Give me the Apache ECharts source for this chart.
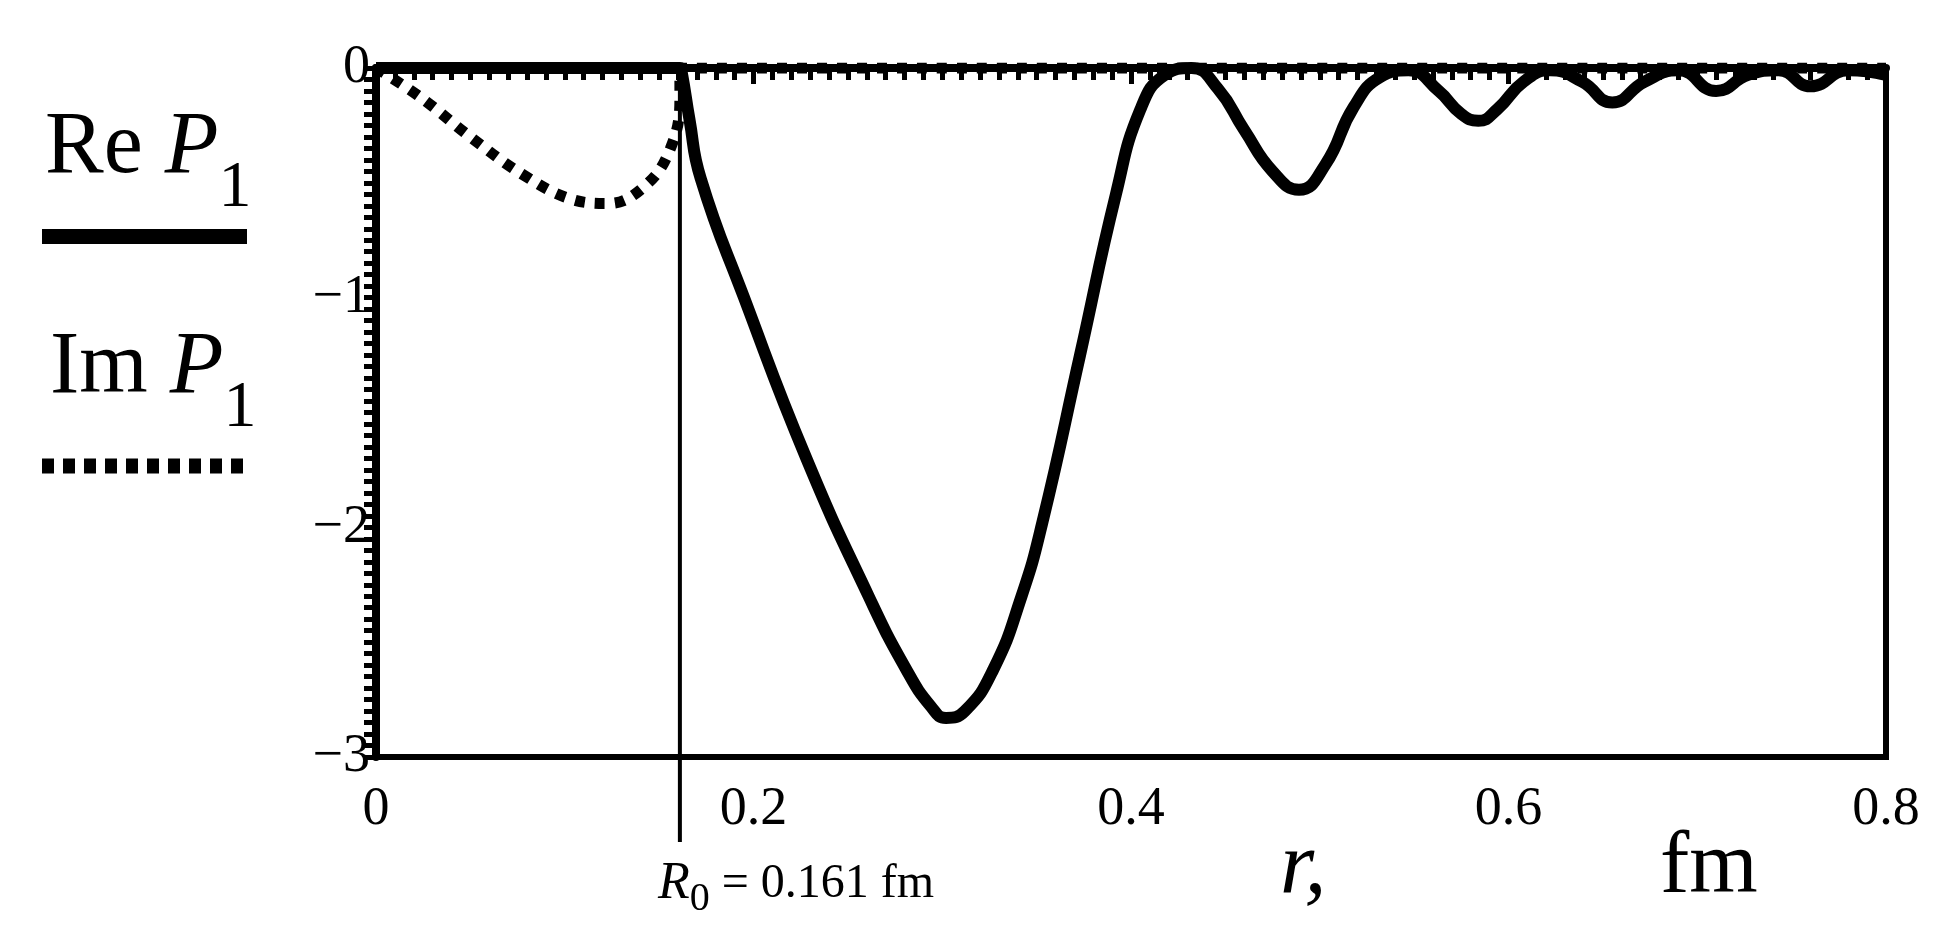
<!DOCTYPE html>
<html><head><meta charset="utf-8">
<script src="https://cdn.jsdelivr.net/npm/echarts@6/dist/echarts.min.js"></script>
<style>html,body{margin:0;padding:0;background:#fff}#c{width:1938px;height:947px}</style>
</head><body><div id="c"></div>
<script>
const reX = [0,0.161,0.162,0.166,0.172,0.195,0.228,0.261,0.281,0.294,0.302,0.312,0.327,0.342,0.353,0.373,0.392,0.405,0.418,0.432,0.446,0.46,0.475,0.489,0.503,0.518,0.532,0.547,0.563,0.575,0.584,0.594,0.608,0.622,0.639,0.655,0.672,0.69,0.71,0.727,0.743,0.76,0.78,0.8];
const reY = [0,0,-0.02,-0.22,-0.48,-1.0,-1.7,-2.3,-2.62,-2.78,-2.83,-2.8,-2.62,-2.3,-1.98,-1.25,-0.55,-0.18,-0.03,0,-0.09,-0.27,-0.45,-0.53,-0.42,-0.17,-0.04,-0.01,-0.1,-0.2,-0.23,-0.18,-0.06,-0.01,-0.06,-0.15,-0.06,-0.01,-0.1,-0.03,-0.01,-0.08,-0.01,-0.03];
const imX = [0,0.024,0.05,0.077,0.103,0.123,0.143,0.156,0.161,0.161,0.8];
const imY = [0,-0.13,-0.3,-0.46,-0.57,-0.59,-0.51,-0.35,-0.14,0,0];
const xTicks = [0,0.2,0.4,0.6,0.8];
const yTicks = [0,-1,-2,-3];
const R0 = 0.161;

const font = '"Liberation Serif", "DejaVu Serif", serif';
const chart = echarts.init(document.getElementById('c'));
chart.setOption({
  animation:false,
  grid:{left:376,right:52,top:68,bottom:190,show:true,borderColor:'#000',borderWidth:6},
  xAxis:{type:'value',min:0,max:0.8,interval:0.2,
    axisLine:{lineStyle:{color:'#000',width:8}},
    axisTick:{show:true,inside:false,length:16,lineStyle:{color:'#000',width:5}},
    minorTick:{show:true,splitNumber:20,length:12,lineStyle:{color:'#000',width:5}},
    splitLine:{show:false},
    axisLabel:{fontFamily:font,fontSize:54,color:'#000',margin:26,
      formatter:v=>xTicks.includes(+v.toFixed(2))?String(+v.toFixed(1)):''}},
  yAxis:{type:'value',min:-3,max:0,interval:1,
    axisLine:{lineStyle:{color:'#000',width:8}},
    axisTick:{show:true,inside:false,length:12,lineStyle:{color:'#000',width:5}},
    minorTick:{show:true,splitNumber:20,length:12,lineStyle:{color:'#000',width:5}},
    splitLine:{show:false},
    axisLabel:{fontFamily:font,fontSize:54,color:'#000',margin:6,
      formatter:v=>yTicks.includes(v)?(v<0?'\u2212'+(-v):String(v)):''}},
  series:[
    {type:'line',data:imX.map((x,i)=>[x,imY[i]]),symbol:'none',smooth:0.4,
      lineStyle:{color:'#000',width:11,type:[10,10],cap:'butt'},z:3},
    {type:'line',data:reX.map((x,i)=>[x,reY[i]]),symbol:'none',smooth:0.5,
      lineStyle:{color:'#000',width:12},z:4},
    {type:'custom',data:[[R0]],z:5,clip:false,renderItem:(p,api)=>{
      const a=api.coord([api.value(0),0]), b=api.coord([api.value(0),-3]);
      return {type:'line',shape:{x1:a[0],y1:a[1],x2:b[0],y2:b[1]+85},style:{stroke:'#000',lineWidth:4}};
    }}
  ],
  graphic:[
    {type:'text',left:45,top:105,style:{text:'{n|Re }{i|P}{s|1}',rich:{
      n:{fontFamily:font,fontSize:88,fill:'#000'},i:{fontFamily:font,fontSize:88,fontStyle:'italic',fill:'#000'},
      s:{fontFamily:font,fontSize:66,fill:'#000',padding:[80,0,0,0]}}}},
    {type:'rect',shape:{x:42,y:229,width:205,height:15},style:{fill:'#000'}},
    {type:'text',left:50,top:325,style:{text:'{n|Im }{i|P}{s|1}',rich:{
      n:{fontFamily:font,fontSize:88,fill:'#000'},i:{fontFamily:font,fontSize:88,fontStyle:'italic',fill:'#000'},
      s:{fontFamily:font,fontSize:66,fill:'#000',padding:[80,0,0,0]}}}},
    {type:'line',shape:{x1:42,y1:466,x2:247,y2:466},style:{stroke:'#000',lineWidth:15,lineDash:[12,9]}},
    {type:'text',left:658,top:858,style:{text:'{i|R}{s|0}{n| = 0.161 fm}',rich:{
      i:{fontFamily:font,fontSize:52,fontStyle:'italic',fill:'#000'},
      s:{fontFamily:font,fontSize:40,fill:'#000',padding:[30,0,0,0]},
      n:{fontFamily:font,fontSize:48,fill:'#000'}}}},
    {type:'text',left:1280,top:825,style:{text:'r,',fontFamily:font,fontSize:88,fontStyle:'italic',fill:'#000'}},
    {type:'text',left:1660,top:825,style:{text:'fm',fontFamily:font,fontSize:88,fill:'#000'}}
  ]
});
</script></body></html>
